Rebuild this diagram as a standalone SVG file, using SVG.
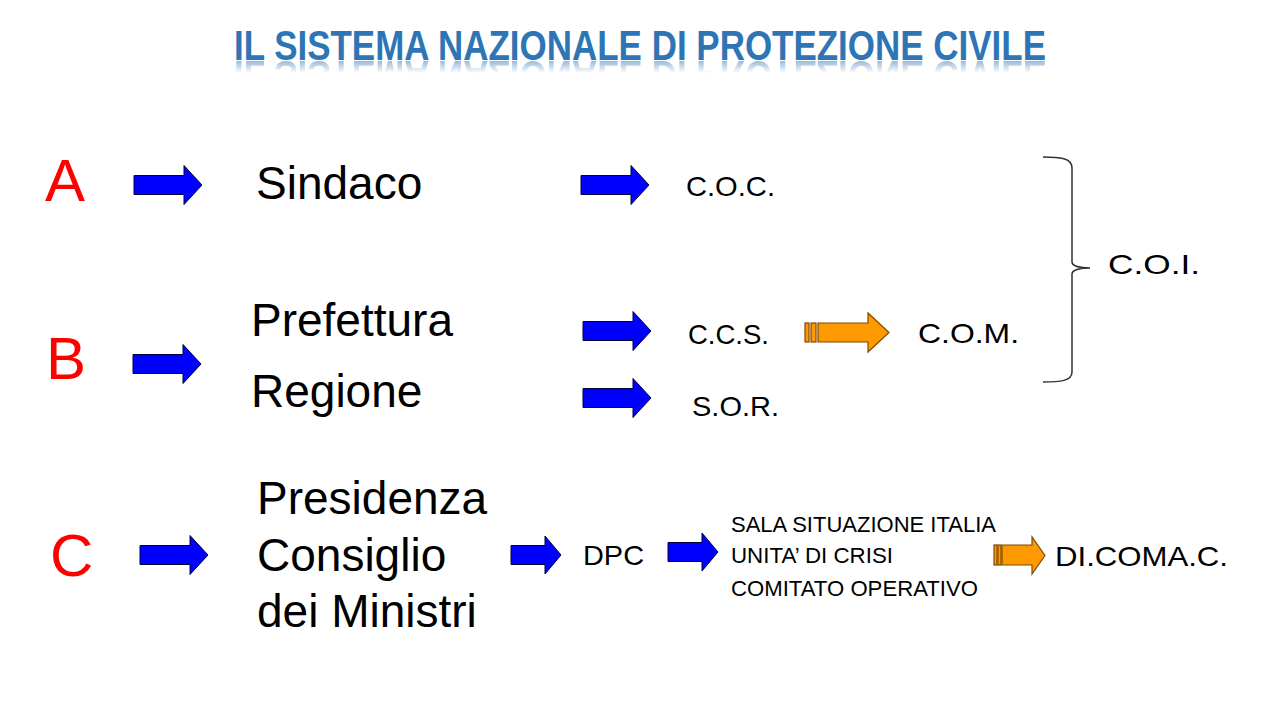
<svg xmlns="http://www.w3.org/2000/svg" width="1280" height="720" viewBox="0 0 1280 720">
<defs>
<style>
.t{font-family:"Liberation Sans",Arial,sans-serif;fill:#000}
.big{font-size:46px}
.mid{font-size:28px}
.sm{font-size:22px}
.red{font-family:"Liberation Sans",Arial,sans-serif;font-size:60px;fill:#FF0000}
.title{font-family:"Liberation Sans",Arial,sans-serif;font-weight:bold;font-size:42px;fill:#2E75B6}
.ba{fill:#0000FF;stroke:#000040;stroke-width:1}
.oa{fill:#FF9900;stroke:#7F4A00;stroke-width:1.2}
</style>
<linearGradient id="fade" x1="0" y1="0" x2="0" y2="1">
<stop offset="0" stop-color="#fff" stop-opacity="0.5"/>
<stop offset="0.6" stop-color="#fff" stop-opacity="0"/>
</linearGradient>
<mask id="rm" maskUnits="userSpaceOnUse" x="0" y="61" width="1280" height="20">
<rect x="0" y="61" width="1280" height="20" fill="url(#fade)"/>
</mask>
<path id="blue" d="M0,-9.5 H50 V-19.5 L68,0 L50,19.5 V9.5 H0 Z"/>
<path id="bluesm" d="M0,-9.5 H34 V-19 L50,0 L34,19 V9.5 H0 Z"/>
</defs>
<rect width="1280" height="720" fill="#fff"/>
<g id="title">
<text class="title" x="234" y="60" textLength="812" lengthAdjust="spacingAndGlyphs">IL SISTEMA NAZIONALE DI PROTEZIONE CIVILE</text>
<g mask="url(#rm)">
<text class="title" x="234" y="-61" transform="scale(1,-1)" textLength="812" lengthAdjust="spacingAndGlyphs">IL SISTEMA NAZIONALE DI PROTEZIONE CIVILE</text>
</g>
</g>
<g id="labels">
<text class="red" x="45" y="201">A</text>
<text class="red" x="46" y="379">B</text>
<text class="red" x="50" y="576">C</text>
</g>
<g id="sindaco"><text class="t big" x="256" y="199">Sindaco</text></g>
<g id="coc"><text class="t mid" x="686" y="196" textLength="89" lengthAdjust="spacingAndGlyphs">C.O.C.</text></g>
<g id="coi"><text class="t mid" x="1108" y="274" textLength="92" lengthAdjust="spacingAndGlyphs">C.O.I.</text></g>
<g id="prefettura"><text class="t big" x="251" y="336">Prefettura</text></g>
<g id="regione"><text class="t big" x="251" y="407">Regione</text></g>
<g id="ccs"><text class="t mid" x="688" y="344" textLength="81" lengthAdjust="spacingAndGlyphs">C.C.S.</text></g>
<g id="com"><text class="t mid" x="918" y="343" textLength="101" lengthAdjust="spacingAndGlyphs">C.O.M.</text></g>
<g id="sor"><text class="t mid" x="692" y="416" textLength="87" lengthAdjust="spacingAndGlyphs">S.O.R.</text></g>
<g id="presidenza">
<text class="t big" x="257" y="514">Presidenza</text>
<text class="t big" x="257" y="571">Consiglio</text>
<text class="t big" x="257" y="627">dei Ministri</text>
</g>
<g id="dpc"><text class="t mid" x="583" y="565" textLength="61" lengthAdjust="spacingAndGlyphs">DPC</text></g>
<g id="sala">
<text class="t sm" x="731" y="532" textLength="265" lengthAdjust="spacingAndGlyphs">SALA SITUAZIONE ITALIA</text>
<text class="t sm" x="731" y="563" textLength="162" lengthAdjust="spacingAndGlyphs">UNITA’ DI CRISI</text>
<text class="t sm" x="731" y="596" textLength="247" lengthAdjust="spacingAndGlyphs">COMITATO OPERATIVO</text>
</g>
<g id="dicomac"><text class="t mid" x="1055" y="566" textLength="173" lengthAdjust="spacingAndGlyphs">DI.COMA.C.</text></g>
<g id="connectors">
<use href="#blue" class="ba" transform="translate(134,185)"/>
<use href="#blue" class="ba" transform="translate(581,185)"/>
<use href="#blue" class="ba" transform="translate(133,364)"/>
<use href="#blue" class="ba" transform="translate(583,331)"/>
<use href="#blue" class="ba" transform="translate(583,398)"/>
<use href="#blue" class="ba" transform="translate(140,555)"/>
<use href="#bluesm" class="ba" transform="translate(511,555)"/>
<use href="#bluesm" class="ba" transform="translate(668,552)"/>
<g class="oa">
<rect x="805" y="323" width="4" height="19"/>
<rect x="811" y="323" width="5" height="19"/>
<path d="M818,323 H868 V313 L889,332.5 L868,352 V342 H818 Z"/>
</g>
<g class="oa">
<rect x="994" y="545" width="3" height="20"/>
<rect x="998" y="545" width="3" height="20"/>
<path d="M1002,545 H1032 V537 L1045,555.5 L1032,574 V565 H1002 Z"/>
</g>
<path d="M1043,157 C1060,157 1072,158 1072,168 V262 C1072,266 1080,268 1090,268 C1080,268 1072,270 1072,274 V372 C1072,381 1060,382 1043,382" fill="none" stroke="#333" stroke-width="1.5"/>
</g>
</svg>
